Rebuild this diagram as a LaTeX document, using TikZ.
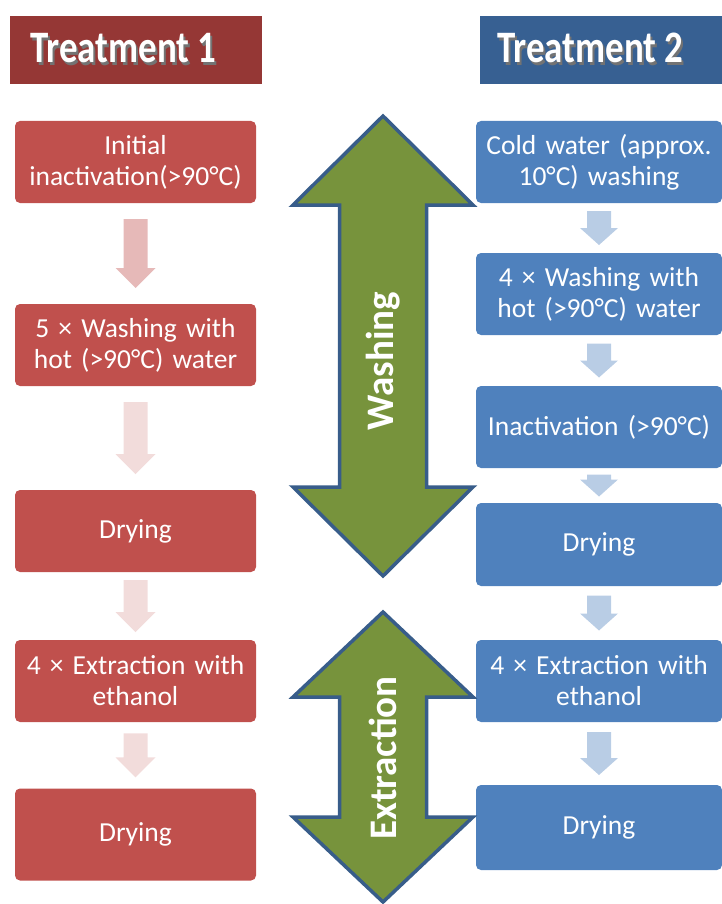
\documentclass[tikz,border=0pt]{standalone}
\usepackage{fontspec}
\setmainfont{Carlito}
\usetikzlibrary{calc}

\definecolor{hdrred}{HTML}{953735}
\definecolor{hdrblue}{HTML}{376092}
\definecolor{boxred}{HTML}{C0504D}
\definecolor{boxblue}{HTML}{4F81BD}
\definecolor{arrred}{HTML}{E6B9B8}
\definecolor{arrpink}{HTML}{F2DCDB}
\definecolor{arrblue}{HTML}{B9CDE5}
\definecolor{washgreen}{HTML}{77933C}
\definecolor{rim}{HTML}{385D8A}

% title text with a soft drop shadow
\newcommand{\shtext}[1]{\scalebox{0.82}[1]{\rlap{\hspace{2.5pt}\raisebox{-2.5pt}{\color{black!55}#1}}#1}}

% block arrow pointing down: centre, length, shaft half, head half, head length, colour
\newcommand{\flowarrow}[6]{%
  \fill[#6] ([shift={(-#3,-#2/2)}]#1) -- ([shift={(#3,-#2/2)}]#1) -- ([shift={(#3,#2/2-#5)}]#1)
    -- ([shift={(#4,#2/2-#5)}]#1) -- ([shift={(0,#2/2)}]#1) -- ([shift={(-#4,#2/2-#5)}]#1)
    -- ([shift={(-#3,#2/2-#5)}]#1) -- cycle;}

% double block arrow: centre, length, shaft half, head half, head length
\newcommand{\phasearrow}[5]{%
  \filldraw[phase] ([shift={(0,-#2/2)}]#1) -- ([shift={(#4,-#2/2+#5)}]#1) -- ([shift={(#3,-#2/2+#5)}]#1)
    -- ([shift={(#3,#2/2-#5)}]#1) -- ([shift={(#4,#2/2-#5)}]#1) -- ([shift={(0,#2/2)}]#1)
    -- ([shift={(-#4,#2/2-#5)}]#1) -- ([shift={(-#3,#2/2-#5)}]#1) -- ([shift={(-#3,-#2/2+#5)}]#1)
    -- ([shift={(-#4,-#2/2+#5)}]#1) -- cycle;}

\tikzset{
  hdr/.style={minimum height=68pt, inner sep=0pt},
  hdrtext/.style={text=white, font=\fontsize{45}{45}\selectfont\bfseries, anchor=base west, inner sep=0pt},
  stepbox/.style={rounded corners=5pt, minimum height=82pt, text width=240pt, align=center,
    text=white, font=\fontsize{27.5}{31}\selectfont, inner sep=0pt},
  phase/.style={fill=washgreen, draw=rim, line width=3.5pt},
  armtext/.style={rotate=90, text=white, font=\fontsize{39}{39}\selectfont\bfseries}
}

\begin{document}
\begin{tikzpicture}[x=1pt,y=-1pt]
\useasboundingbox (0,0) rectangle (722,904);

% headers
\node[hdr, fill=hdrred, minimum width=252pt] (hd1) at (136,50) {};
\node[hdr, fill=hdrblue, minimum width=242pt] (hd2) at (601,50) {};
\node[hdrtext] (ht1) at (30,63) {\shtext{Treatment 1}};
\node[hdrtext] (ht2) at (497,63) {\shtext{Treatment 2}};

% treatment 1
\node[stepbox, fill=boxred, minimum width=241pt] (l1) at (135.5,162) {Initial\\inactivation(>90°C)};
\node[stepbox, fill=boxred, minimum width=241pt] (l2) at (135.5,345) {5 × Washing with\\hot (>90°C) water};
\node[stepbox, fill=boxred, minimum width=241pt] (l3) at (135.5,531) {Drying};
\node[stepbox, fill=boxred, minimum width=241pt] (l4) at (135.5,681) {4 × Extraction with\\ethanol};
\node[stepbox, fill=boxred, minimum width=241pt, minimum height=92pt] (l5) at (135.5,834.5) {Drying};

% treatment 2
\node[stepbox, fill=boxblue, minimum width=246pt] (r1) at (599,162) {Cold water (approx.\\10°C) washing};
\node[stepbox, fill=boxblue, minimum width=246pt] (r2) at (599,294) {4 × Washing with\\hot (>90°C) water};
\node[stepbox, fill=boxblue, minimum width=246pt] (r3) at (599,427) {Inactivation (>90°C)};
\node[stepbox, fill=boxblue, minimum width=246pt, minimum height=83pt] (r4) at (599,544.5) {Drying};
\node[stepbox, fill=boxblue, minimum width=246pt] (r5) at (599,681) {4 × Extraction with\\ethanol};
\node[stepbox, fill=boxblue, minimum width=246pt, minimum height=85pt] (r6) at (599,827.5) {Drying};

% step arrows
\foreach \a/\b/\len/\col in {l1/l2/69/arrred, l2/l3/72/arrpink, l3/l4/52/arrpink, l4/l5/44/arrpink}{
  \coordinate (m\a) at ($(\a.south)!0.5!(\b.north)$);
  \flowarrow{m\a}{\len}{12}{20}{20}{\col}
}
\foreach \a/\b/\len in {r1/r2/34, r2/r3/34, r3/r4/22, r4/r5/35, r5/r6/43}{
  \coordinate (m\a) at ($(\a.south)!0.5!(\b.north)$);
  \flowarrow{m\a}{\len}{12}{19}{17}{arrblue}
}

% phase arrows
\coordinate (washmid) at (383,346);
\coordinate (extrmid) at (383,757);
\phasearrow{washmid}{460}{43.5}{90}{89}
\phasearrow{extrmid}{290}{43.5}{90}{85}
\node[armtext] (washlbl) at (383,361) {Washing};
\node[armtext] (extrlbl) at (383,758) {Extraction};
\end{tikzpicture}
\end{document}
